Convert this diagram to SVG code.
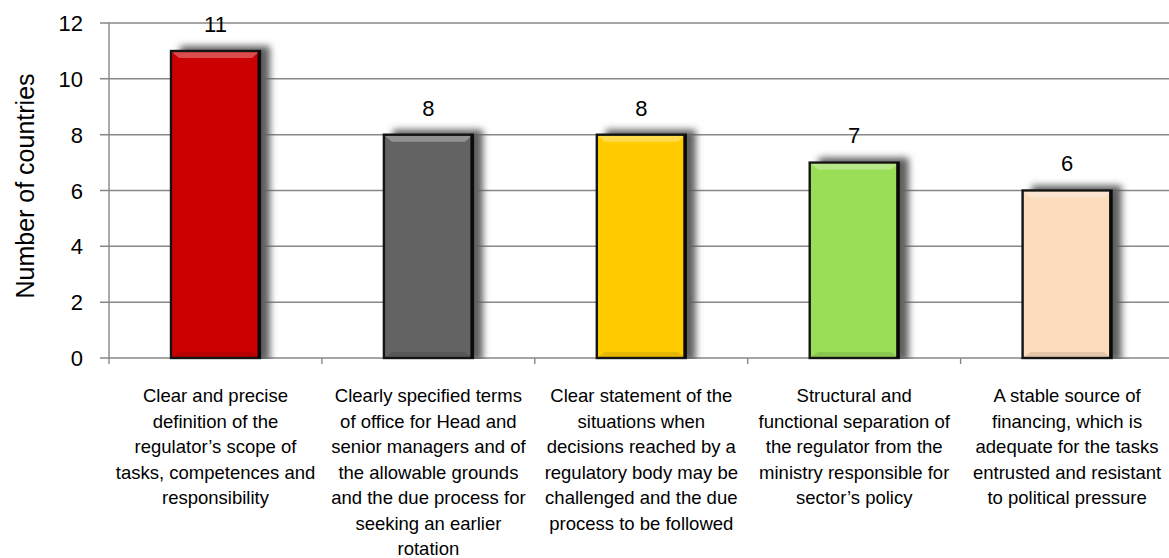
<svg xmlns="http://www.w3.org/2000/svg" width="1169" height="558" viewBox="0 0 1169 558">
<style>
.grid{stroke:#878787;stroke-width:1.4;fill:none}
.tick{font-family:"Liberation Sans",Arial,sans-serif;font-size:22px;fill:#000}
.val{font-family:"Liberation Sans",Arial,sans-serif;font-size:22px;fill:#000;text-anchor:middle}
.cat{font-family:"Liberation Sans",Arial,sans-serif;font-size:18.5px;fill:#000;text-anchor:middle}
.title{font-family:"Liberation Sans",Arial,sans-serif;font-size:25px;fill:#000;text-anchor:middle}
.bar{stroke:#141414;stroke-width:2.4}
.edge{stroke:#0a0a0a;stroke-width:3}
.hi{fill:#fff;opacity:0.3}
.lo{fill:#000;opacity:0.1}
.shadow{fill:#5e5e5e;filter:url(#blur)}
</style>
<defs>
<filter id="blur" x="-30%" y="-10%" width="160%" height="120%">
<feGaussianBlur stdDeviation="3.5"/>
</filter>
<clipPath id="plot"><rect x="0" y="0" width="1169" height="359"/></clipPath>
</defs>
<rect width="1169" height="558" fill="#fff"/>
<g id="grid">
<line class="grid" x1="100" y1="23" x2="1169" y2="23"/>
<line class="grid" x1="100" y1="78.8" x2="1169" y2="78.8"/>
<line class="grid" x1="100" y1="134.7" x2="1169" y2="134.7"/>
<line class="grid" x1="100" y1="190.5" x2="1169" y2="190.5"/>
<line class="grid" x1="100" y1="246.3" x2="1169" y2="246.3"/>
<line class="grid" x1="100" y1="302.2" x2="1169" y2="302.2"/>
<line class="grid" x1="100" y1="358" x2="1169" y2="358"/>
<line class="grid" x1="109" y1="23" x2="109" y2="364"/>
<line class="grid" x1="321.9" y1="358" x2="321.9" y2="364"/>
<line class="grid" x1="534.8" y1="358" x2="534.8" y2="364"/>
<line class="grid" x1="747.7" y1="358" x2="747.7" y2="364"/>
<line class="grid" x1="960.6" y1="358" x2="960.6" y2="364"/>
</g>
<g id="yaxis-labels" class="tick" text-anchor="end">
<text x="83" y="31">12</text>
<text x="83" y="86.8">10</text>
<text x="83" y="142.7">8</text>
<text x="83" y="198.5">6</text>
<text x="83" y="254.3">4</text>
<text x="83" y="310.2">2</text>
<text x="83" y="366">0</text>
</g>
<text id="axis-title" class="title" transform="translate(34,186) rotate(-90)">Number of countries</text>
<g id="bar1">
<rect class="shadow" clip-path="url(#plot)" x="180" y="46" width="90" height="316"/>
<rect class="bar" x="171" y="51" width="89" height="307" fill="#cc0000"/>
<polygon class="hi" points="172.2,52.2 258.8,52.2 252,58 179,58"/>
<polygon class="lo" points="172.2,356.8 258.8,356.8 252,352 179,352"/>
<line class="edge" x1="259" y1="51" x2="259" y2="358"/>
<text class="val" x="215.5" y="31.5">11</text>
</g>
<g id="bar2">
<rect class="shadow" clip-path="url(#plot)" x="392.9" y="129.7" width="90" height="232"/>
<rect class="bar" x="383.9" y="134.7" width="89" height="223.3" fill="#636363"/>
<polygon class="hi" points="385.1,135.9 471.7,135.9 465,141.7 392,141.7"/>
<polygon class="lo" points="385.1,356.8 471.7,356.8 465,352 392,352"/>
<line class="edge" x1="471.9" y1="134.7" x2="471.9" y2="358"/>
<text class="val" x="428.4" y="115.5">8</text>
</g>
<g id="bar3">
<rect class="shadow" clip-path="url(#plot)" x="605.8" y="129.7" width="90" height="232"/>
<rect class="bar" x="596.8" y="134.7" width="89" height="223.3" fill="#ffcc00"/>
<polygon class="hi" points="598,135.9 684.6,135.9 678,141.7 605,141.7"/>
<polygon class="lo" points="598,356.8 684.6,356.8 678,352 605,352"/>
<line class="edge" x1="684.8" y1="134.7" x2="684.8" y2="358"/>
<text class="val" x="641.3" y="115.5">8</text>
</g>
<g id="bar4">
<rect class="shadow" clip-path="url(#plot)" x="818.7" y="157.6" width="90" height="204"/>
<rect class="bar" x="809.7" y="162.6" width="89" height="195.4" fill="#9ade58"/>
<polygon class="hi" points="810.9,163.8 897.5,163.8 891,169.6 818,169.6"/>
<polygon class="lo" points="810.9,356.8 897.5,356.8 891,352 818,352"/>
<line class="edge" x1="897.7" y1="162.6" x2="897.7" y2="358"/>
<text class="val" x="854.2" y="143.4">7</text>
</g>
<g id="bar5">
<rect class="shadow" clip-path="url(#plot)" x="1031.6" y="185.5" width="90" height="176"/>
<rect class="bar" x="1022.6" y="190.5" width="89" height="167.5" fill="#fddcbd"/>
<polygon class="hi" points="1023.8,191.7 1110.4,191.7 1104,197.5 1031,197.5"/>
<polygon class="lo" points="1023.8,356.8 1110.4,356.8 1104,352 1031,352"/>
<line class="edge" x1="1110.6" y1="190.5" x2="1110.6" y2="358"/>
<text class="val" x="1067.1" y="171.3">6</text>
</g>
<g id="categories" class="cat">
<text x="215.5" y="402">Clear and precise</text>
<text x="215.5" y="427.5">definition of the</text>
<text x="215.5" y="453">regulator’s scope of</text>
<text x="215.5" y="478.5">tasks, competences and</text>
<text x="215.5" y="504">responsibility</text>
<text x="428.4" y="402">Clearly specified terms</text>
<text x="428.4" y="427.5">of office for Head and</text>
<text x="428.4" y="453">senior managers and of</text>
<text x="428.4" y="478.5">the allowable grounds</text>
<text x="428.4" y="504">and the due process for</text>
<text x="428.4" y="529.5">seeking an earlier</text>
<text x="428.4" y="555">rotation</text>
<text x="641.3" y="402">Clear statement of the</text>
<text x="641.3" y="427.5">situations when</text>
<text x="641.3" y="453">decisions reached by a</text>
<text x="641.3" y="478.5">regulatory body may be</text>
<text x="641.3" y="504">challenged and the due</text>
<text x="641.3" y="529.5">process to be followed</text>
<text x="854.2" y="402">Structural and</text>
<text x="854.2" y="427.5">functional separation of</text>
<text x="854.2" y="453">the regulator from the</text>
<text x="854.2" y="478.5">ministry responsible for</text>
<text x="854.2" y="504">sector’s policy</text>
<text x="1067.1" y="402">A stable source of</text>
<text x="1067.1" y="427.5">financing, which is</text>
<text x="1067.1" y="453">adequate for the tasks</text>
<text x="1067.1" y="478.5">entrusted and resistant</text>
<text x="1067.1" y="504">to political pressure</text>
</g>
</svg>
